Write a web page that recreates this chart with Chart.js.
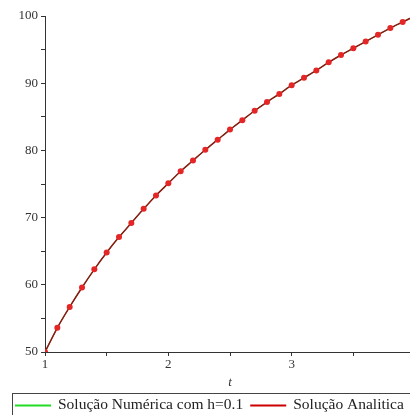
<!DOCTYPE html>
<html>
<head>
<meta charset="utf-8">
<script src="https://cdn.jsdelivr.net/npm/chart.js@4/dist/chart.umd.min.js"></script>
<style>
html,body{margin:0;padding:0;overflow:hidden;background:#fff;width:410px;height:415px;}
#wrap{position:absolute;left:0;top:0;width:420px;height:415px;}
</style>
</head>
<body>
<div id="wrap"><canvas id="c" width="420" height="415"></canvas></div>
<script>
const tValues = [1.0,1.1,1.2,1.3,1.4,1.5,1.6,1.7,1.8,1.9,2.0,2.1,2.2,2.3,2.4,2.5,2.6,2.7,2.8,2.9,3.0,3.1,3.2,3.3,3.4,3.5,3.6,3.7,3.8,3.9,4.0];
const numerica = [50.0,53.6,56.7,59.6,62.3,64.8,67.1,69.2,71.3,73.3,75.1,76.9,78.5,80.1,81.6,83.1,84.5,85.9,87.2,88.4,89.7,90.8,91.9,93.1,94.2,95.2,96.2,97.2,98.2,99.1,100.0];
const analitica = [50.0,53.6,56.7,59.6,62.3,64.8,67.1,69.2,71.3,73.3,75.1,76.9,78.5,80.1,81.6,83.1,84.5,85.9,87.2,88.4,89.7,90.8,91.9,93.1,94.2,95.2,96.2,97.2,98.2,99.1,100.0];
const seriesLabels = ['Solução Numérica com h=0.1','Solução Analitica'];
const xTickValues = [1,2,3,4];
const yTickValues = [50,60,70,80,90,100];

const serif = "'Liberation Serif','Times New Roman',serif";

const legendBox = {
  id: 'legendBox',
  afterDraw(chart) {
    const ctx = chart.ctx;
    ctx.save();
    ctx.strokeStyle = '#444';
    ctx.lineWidth = 1;
    ctx.strokeRect(12.5, 393.5, 430, 40);
    ctx.font = '15.5px ' + serif;
    ctx.textBaseline = 'middle';
    ctx.fillStyle = '#222';
    const y = 405;
    let x = 15;
    chart.data.datasets.forEach((ds, i) => {
      ctx.strokeStyle = ds.legendColor;
      ctx.lineWidth = 2;
      ctx.beginPath();
      ctx.moveTo(x, y + 0.5);
      ctx.lineTo(x + 36, y + 0.5);
      ctx.stroke();
      x += 43;
      ctx.fillText(ds.label, x, y);
      x += ctx.measureText(ds.label).width + 7;
    });
    ctx.restore();
  }
};

new Chart(document.getElementById('c'), {
  type: 'line',
  data: {
    datasets: [
      {
        label: seriesLabels[0],
        data: tValues.map((t, i) => ({x: t, y: numerica[i]})),
        borderColor: '#00b400',
        legendColor: '#22dd22',
        borderWidth: 1,
        pointRadius: 0,
        tension: 0.3,
        order: 2
      },
      {
        label: seriesLabels[1],
        data: tValues.map((t, i) => ({x: t, y: analitica[i]})),
        borderColor: '#8a1a12',
        legendColor: '#cc0000',
        borderWidth: 1.5,
        pointRadius: 3,
        pointBackgroundColor: '#e52626',
        pointBorderColor: '#e52626',
        pointBorderWidth: 0,
        tension: 0.3,
        order: 1
      }
    ]
  },
  options: {
    responsive: false,
    animation: false,
    layout: {padding: {top: 16, right: 5, bottom: 22, left: 0}},
    plugins: {legend: {display: false}, tooltip: {enabled: false}},
    scales: {
      x: {
        type: 'linear',
        min: 1, max: 4,
        afterBuildTicks(scale) {
          const t = [];
          for (let v = 1; v <= 4.0001; v += 0.5) t.push({value: Math.round(v * 10) / 10});
          scale.ticks = t;
        },
        afterFit(scale) { scale.height = 41; },
        ticks: {
          autoSkip: false,
          maxRotation: 0,
          padding: 1,
          color: '#333',
          font: {family: serif, size: 13},
          callback: v => xTickValues.includes(v) ? String(v) : ''
        },
        grid: {drawOnChartArea: false, tickLength: 4, color: '#333', tickColor: '#333'},
        border: {color: '#333', width: 1},
        title: {display: true, text: 't', color: '#333', font: {family: serif, size: 13, style: 'italic'}, padding: {top: 0, bottom: 3}}
      },
      y: {
        min: 50, max: 100,
        afterBuildTicks(scale) {
          const t = [];
          for (let v = 50; v <= 100; v += 5) t.push({value: v});
          scale.ticks = t;
        },
        afterFit(scale) { scale.width = 45; },
        ticks: {
          autoSkip: false,
          padding: 3,
          color: '#333',
          font: {family: serif, size: 13},
          callback: v => yTickValues.includes(v) ? String(v) : ''
        },
        grid: {drawOnChartArea: false, tickLength: 4, color: '#333', tickColor: '#333'},
        border: {color: '#333', width: 1}
      }
    }
  },
  plugins: [legendBox]
});
</script>
</body>
</html>
